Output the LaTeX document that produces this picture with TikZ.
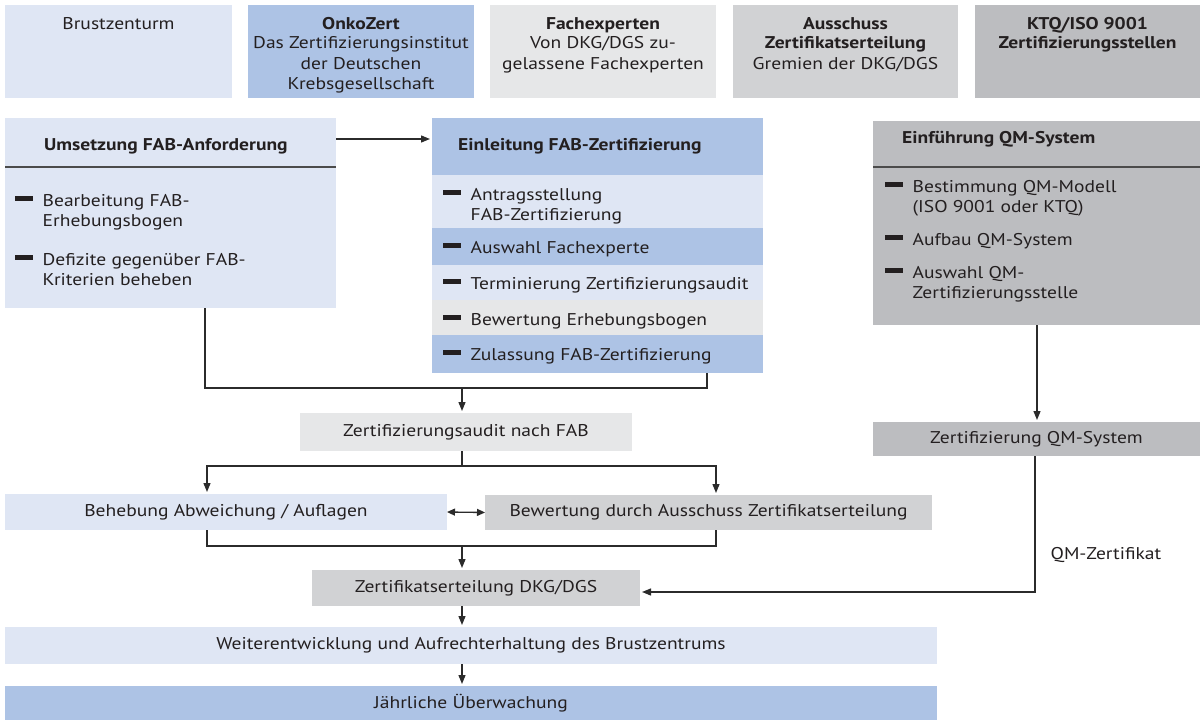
\documentclass[tikz,border=0pt]{standalone}
\usepackage{fontspec}
\setmainfont[FakeStretch=1.15]{PT Sans}
\usetikzlibrary{arrows.meta}

\definecolor{hellblau}{HTML}{DFE6F4}
\definecolor{mittelblau}{HTML}{ADC3E5}
\definecolor{hellgrau}{HTML}{E6E7E8}
\definecolor{mittelgrau}{HTML}{D1D2D4}
\definecolor{dunkelgrau}{HTML}{BCBDC0}
\definecolor{schrift}{HTML}{231F20}
\definecolor{linienfarbe}{HTML}{2B2B2B}

\newcommand{\strich}{\rule[5pt]{18pt}{5pt}}
\newcommand{\punkt}[1]{\strich\hspace{9.5pt}\begin{tabular}[t]{@{}l@{}}#1\end{tabular}}
\newcommand{\zeilen}[1]{\begin{tabular}[t]{@{}c@{}}#1\end{tabular}}

\begin{document}
\begin{tikzpicture}[x=1pt,y=-1pt,
	font=\fontsize{17}{20}\selectfont, text=schrift,
	feld/.style={inner sep=0pt, outer sep=0pt},
	eintrag/.style={anchor=base west, inner sep=0pt},
	titel/.style={anchor=base, inner sep=0pt},
	linie/.style={draw=linienfarbe, line width=1.3pt},
	pfeil/.style={linie, shorten >=2pt, -{Triangle[length=9pt,width=7pt]}},
	trenner/.style={draw=linienfarbe!85, line width=2pt}]
	\useasboundingbox (0,0) rectangle (1200,720);

	% Kopfzeile
	\node[feld,fill=hellblau,minimum width=227pt,minimum height=93pt](brust) at (118.5,51.5){};
	\node[feld,fill=mittelblau,minimum width=226pt,minimum height=93pt](onko) at (361,51.5){};
	\node[feld,fill=hellgrau,minimum width=226pt,minimum height=93pt](fach) at (603,51.5){};
	\node[feld,fill=mittelgrau,minimum width=225pt,minimum height=93pt](ausschuss) at (845.5,51.5){};
	\node[feld,fill=dunkelgrau,minimum width=225pt,minimum height=93pt](ktq) at (1087.5,51.5){};
	\node[titel](brusttext) at (118.5,29){Brustzenturm};
	\node[titel](onkotext) at (361,29){\zeilen{\textbf{OnkoZert}\\Das Zertifizierungsinstitut\\der Deutschen\\Krebsgesellschaft}};
	\node[titel](fachtext) at (603,29){\zeilen{\textbf{Fachexperten}\\Von DKG/DGS zu-\\gelassene Fachexperten}};
	\node[titel](ausschusstext) at (845.5,29){\zeilen{\textbf{Ausschuss}\\\textbf{Zertifikatserteilung}\\Gremien der DKG/DGS}};
	\node[titel](ktqtext) at (1087.5,29){\zeilen{\textbf{KTQ/ISO 9001}\\\textbf{Zertifizierungsstellen}}};

	% Umsetzung
	\node[feld,fill=hellblau,minimum width=331pt,minimum height=190pt](umsetzung) at (170.5,213){};
	\draw[trenner](umsetzung.west |- 0,167)--(umsetzung.east |- 0,167);
	\node[eintrag](umsetzungtext) at (44,150){\textbf{Umsetzung FAB-Anforderung}};
	\node[eintrag](u1) at (15,206){\punkt{Bearbeitung FAB-\\Erhebungsbogen}};
	\node[eintrag](u2) at (15,265){\punkt{Defizite gegenüber FAB-\\Kriterien beheben}};

	% Einleitung
	\node[feld,fill=mittelblau,minimum width=331pt,minimum height=57pt](kopf) at (597.5,146.5){};
	\node[feld,fill=hellblau,minimum width=331pt,minimum height=53pt](antrag) at (597.5,201.5){};
	\node[feld,fill=mittelblau,minimum width=331pt,minimum height=37pt](auswahl) at (597.5,246.5){};
	\node[feld,fill=hellblau,minimum width=331pt,minimum height=35pt](termin) at (597.5,282.5){};
	\node[feld,fill=hellgrau,minimum width=331pt,minimum height=35pt](bewertbogen) at (597.5,317.5){};
	\node[feld,fill=mittelblau,minimum width=331pt,minimum height=38pt](zulass) at (597.5,354){};
	\node[eintrag](kopftext) at (458,150){\textbf{Einleitung FAB-Zertifizierung}};
	\node[eintrag](e1) at (443,200){\punkt{Antragsstellung\\FAB-Zertifizierung}};
	\node[eintrag](e2) at (443,253){\punkt{Auswahl Fachexperte}};
	\node[eintrag](e3) at (443,289){\punkt{Terminierung Zertifizierungsaudit}};
	\node[eintrag](e4) at (443,325){\punkt{Bewertung Erhebungsbogen}};
	\node[eintrag](e5) at (443,360){\punkt{Zulassung FAB-Zertifizierung}};

	% QM-System
	\node[feld,fill=dunkelgrau,minimum width=327pt,minimum height=204pt](qm) at (1036.5,223){};
	\draw[trenner](qm.west |- 0,167)--(qm.east |- 0,167);
	\node[eintrag](qmtext) at (902,143){\textbf{Einführung QM-System}};
	\node[eintrag](q1) at (885,192){\punkt{Bestimmung QM-Modell\\(ISO 9001 oder KTQ)}};
	\node[eintrag](q2) at (885,245){\punkt{Aufbau QM-System}};
	\node[eintrag](q3) at (885,278){\punkt{Auswahl QM-\\Zertifizierungsstelle}};

	% Ablauf
	\node[feld,fill=hellgrau,minimum width=332pt,minimum height=38pt](audit) at (466,432){Zertifizierungsaudit nach FAB};
	\node[feld,fill=dunkelgrau,minimum width=327pt,minimum height=34pt](qmzert) at (1036.5,439){Zertifizierung QM-System};
	\node[feld,fill=hellblau,minimum width=442pt,minimum height=36pt](behebung) at (226,512){Behebung Abweichung / Auflagen};
	\node[feld,fill=mittelgrau,minimum width=447pt,minimum height=35pt](bewertung) at (708.5,512.5){Bewertung durch Ausschuss Zertifikatserteilung};
	\node[feld,fill=mittelgrau,minimum width=328pt,minimum height=36pt](zertifikat) at (476,588){Zertifikatserteilung DKG/DGS};
	\node[feld,fill=hellblau,minimum width=932pt,minimum height=37pt](weiter) at (471,645.5){Weiterentwicklung und Aufrechterhaltung des Brustzentrums};
	\node[feld,fill=mittelblau,minimum width=932pt,minimum height=34pt](jaehrlich) at (471,703){Jährliche Überwachung};

	% Verbindungen
	\coordinate(sammel1) at (462,388);
	\coordinate(verteiler) at (462,466);
	\coordinate(sammel2) at (462,546);
	\coordinate(knick) at (1035,592);
	\draw[pfeil](umsetzung.east |- 0,139)--(kopf.west |- 0,139);
	\draw[linie](umsetzung.south -| 205,0) |- (sammel1) -| (zulass.south -| 707,0);
	\draw[pfeil](sammel1)--(audit.north -| sammel1);
	\draw[linie](audit.south -| verteiler)--(verteiler);
	\draw[pfeil](verteiler) -| (behebung.north -| 207,0);
	\draw[pfeil](verteiler) -| (bewertung.north -| 716,0);
	\draw[linie,{Triangle[length=8pt,width=7pt]}-{Triangle[length=8pt,width=7pt]}](behebung.east)--(bewertung.west);
	\draw[linie](behebung.south -| 207,0) |- (sammel2) -| (bewertung.south -| 716,0);
	\draw[pfeil](sammel2)--(zertifikat.north -| sammel2);
	\draw[pfeil](qm.south -| 1037,0)--(qmzert.north -| 1037,0);
	\draw[pfeil](qmzert.south -| knick)--node[right=15pt,inner sep=0pt,pos=0.73](qmlabel){QM-Zertifikat}(knick)--(zertifikat.east |- knick);
	\draw[pfeil](zertifikat.south -| 462,0)--(weiter.north -| 462,0);
	\draw[pfeil](weiter.south -| 462,0)--(jaehrlich.north -| 462,0);
\end{tikzpicture}
\end{document}
